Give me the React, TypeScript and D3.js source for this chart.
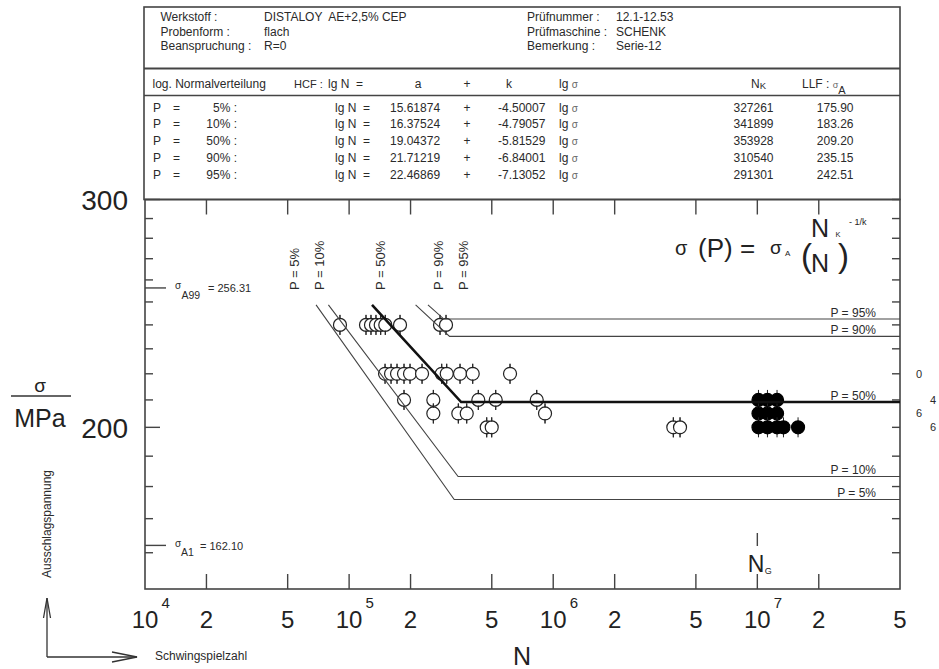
import React from 'react';
import * as d3 from 'd3';

// Wöhler-Linien je Überlebenswahrscheinlichkeit: lg N = a + k lg sigma
const probLabels = ['5%', '10%', '50%', '90%', '95%'];
const coefA = [15.61874, 16.37524, 19.04372, 21.71219, 22.46869];
const coefK = [-4.50007, -4.79057, -5.81529, -6.84001, -7.13052];
const kneeN = [327261, 341899, 353928, 310540, 291301];
const llfSigma = [175.9, 183.26, 209.2, 235.15, 242.51];
const labelN = [56800, 75400, 150000, 288500, 382400];
const curveStartSigma = 248.7;

// Brüche (offene Kreise)
const failSigma = [240, 220, 210, 205, 200];
const failN = [
  [90200, 121000, 128000, 135400, 142800, 150400, 177600, 278900, 298400],
  [150000, 160500, 171700, 185800, 198800, 227700, 284300, 300800, 349500, 403300, 614300],
  [185800, 258600, 429500, 522800, 830400],
  [258600, 342800, 376900, 911700],
  [472300, 499700, 3876000, 4181000],
];

// Durchläufer (gefüllte Kreise)
const runoutSigma = [210, 205, 200];
const runoutN = [
  [10130000, 11210000, 12490000],
  [10130000, 11210000, 12490000],
  [10130000, 11210000, 12490000, 13430000, 15830000],
];

const countSigma = [220, 210, 205, 200];
const countLabels = ['0', '4', '6', '6'];

const xTicks = [1e4, 2e4, 5e4, 1e5, 2e5, 5e5, 1e6, 2e6, 5e6, 1e7, 2e7, 5e7];
const yMajor = [200, 300];
const yMinor = [160, 170, 180, 190, 210, 220, 230, 240, 250, 260, 270, 280, 290];

const sigmaA99 = 256.31;
const sigmaA1 = 162.1;
const NG = 1e7;

const infoLeftKeys = ['Werkstoff :', 'Probenform :', 'Beanspruchung :'];
const infoLeftVals = ['DISTALOY  AE+2,5% CEP', 'flach', 'R=0'];
const infoRightKeys = ['Prüfnummer :', 'Prüfmaschine :', 'Bemerkung :'];
const infoRightVals = ['12.1-12.53', 'SCHENK', 'Serie-12'];

const FONT = 'Liberation Sans, Arial, Helvetica, sans-serif';
const INK = '#2a2a2a';

const left = 145, right = 900, top = 199.5, bottom = 589;

export default function App() {
  const x = d3.scaleLog().domain([1e4, 5e7]).range([left, right]);
  const y = d3.scaleLog().domain([150, 300]).range([bottom, top]);
  const line = d3.line<[number, number]>().x(d => x(d[0])).y(d => y(d[1]));

  const curves = probLabels.map((p, i) => {
    const nStart = Math.pow(10, coefA[i] + coefK[i] * Math.log10(curveStartSigma));
    return line([
      [nStart, curveStartSigma],
      [kneeN[i], llfSigma[i]],
      [5e7, llfSigma[i]],
    ]);
  });

  const isPow10 = (v: number) => Math.abs(Math.log10(v) - Math.round(Math.log10(v))) < 1e-9;
  const r = 6.5;

  const symbol = (n: number, s: number, filled: boolean, key: string) => {
    const cx = x(n), cy = y(s);
    return (
      <g key={key}>
        <line x1={cx} x2={cx} y1={cy - r - 3.5} y2={cy + r + 3.5} stroke="#222" strokeWidth={1} />
        <circle cx={cx} cy={cy} r={r} fill={filled ? '#000' : '#fff'} stroke={filled ? '#000' : '#222'} strokeWidth={1.2} />
        {!filled && <line x1={cx} x2={cx} y1={cy - r - 3.5} y2={cy - r + 1} stroke="#222" strokeWidth={1} />}
        {!filled && <line x1={cx} x2={cx} y1={cy + r - 1} y2={cy + r + 3.5} stroke="#222" strokeWidth={1} />}
      </g>
    );
  };

  const rowY = [111.7, 128.4, 145.1, 161.8, 178.5];

  return (
    <svg width={939} height={669} style={{ position: 'absolute', left: 0, top: 0, background: '#fff' }} fontFamily={FONT}>
      {/* Kopf */}
      <rect x={144} y={7} width={756} height={top - 7} fill="none" stroke="#444" strokeWidth={1.6} />
      <line x1={144} x2={900} y1={68.5} y2={68.5} stroke="#444" strokeWidth={2} />
      <line x1={144} x2={900} y1={95.5} y2={95.5} stroke="#444" strokeWidth={1.4} />
      <g fontSize={12} fill={INK}>
        {infoLeftKeys.map((t, i) => (
          <text key={'lk' + i} x={160.5} y={21 + i * 14.5}>{t}</text>
        ))}
        {infoLeftVals.map((t, i) => (
          <text key={'lv' + i} x={264} y={21 + i * 14.5} style={{ whiteSpace: 'pre' }}>{t}</text>
        ))}
        {infoRightKeys.map((t, i) => (
          <text key={'rk' + i} x={527} y={21 + i * 14.5}>{t}</text>
        ))}
        {infoRightVals.map((t, i) => (
          <text key={'rv' + i} x={616} y={21 + i * 14.5}>{t}</text>
        ))}

        <text x={152.5} y={87.5}>log. Normalverteilung</text>
        <text x={294} y={87.5} fontSize={11}>HCF :</text>
        <text x={328} y={87.5} style={{ whiteSpace: 'pre' }}>lg N  =</text>
        <text x={418} y={87.5} textAnchor="middle">a</text>
        <text x={467} y={87.5} textAnchor="middle">+</text>
        <text x={509} y={87.5} textAnchor="middle">k</text>
        <text x={559} y={87.5}>lg <tspan fontSize={10} fill="#666">σ</tspan></text>
        <text x={751} y={87.5}>N<tspan fontSize={9.5} dy={1}>K</tspan></text>
        <text x={802} y={87.5}>LLF : <tspan fontSize={9} fill="#666">σ</tspan><tspan fontSize={11} dy={6}>A</tspan></text>

        {probLabels.map((p, i) => (
          <g key={'row' + i}>
            <text x={153} y={rowY[i]}>P</text>
            <text x={173} y={rowY[i]}>=</text>
            <text x={237} y={rowY[i]} textAnchor="end">{p} :</text>
            <text x={335} y={rowY[i]} style={{ whiteSpace: 'pre' }}>lg N  =</text>
            <text x={390} y={rowY[i]}>{coefA[i].toFixed(5)}</text>
            <text x={467} y={rowY[i]} textAnchor="middle">+</text>
            <text x={498} y={rowY[i]}>{coefK[i].toFixed(5)}</text>
            <text x={559} y={rowY[i]}>lg <tspan fontSize={10} fill="#666">σ</tspan></text>
            <text x={773.5} y={rowY[i]} textAnchor="end">{kneeN[i]}</text>
            <text x={853.5} y={rowY[i]} textAnchor="end">{llfSigma[i].toFixed(2)}</text>
          </g>
        ))}
      </g>

      {/* Achsenrahmen */}
      <rect x={left} y={top} width={right - left} height={bottom - top} fill="none" stroke="#444" strokeWidth={1.6} />

      {/* x-Ticks oben/unten */}
      {xTicks.filter(t => t > 1e4 && t < 5e7).map(t => (
        <g key={'xt' + t} stroke="#444" strokeWidth={1.4}>
          <line x1={x(t)} x2={x(t)} y1={bottom} y2={bottom - 15} />
          <line x1={x(t)} x2={x(t)} y1={top} y2={top + 15} />
        </g>
      ))}
      {xTicks.map(t => {
        const e = Math.round(Math.log10(t));
        if (isPow10(t)) {
          return (
            <g key={'xl' + t} fill="#222">
              <text x={x(t)} y={628} fontSize={24} textAnchor="middle">10</text>
              <text x={x(t) + 16.5} y={608} fontSize={15}>{e}</text>
            </g>
          );
        }
        return (
          <text key={'xl' + t} x={x(t)} y={628} fontSize={24} textAnchor="middle" fill="#222">
            {String(Math.round(t / Math.pow(10, Math.floor(Math.log10(t)))))}
          </text>
        );
      })}

      {/* y-Ticks links/rechts */}
      {yMinor.map(s => (
        <g key={'ym' + s} stroke="#444" strokeWidth={1.4}>
          <line x1={left} x2={left + 8} y1={y(s)} y2={y(s)} />
          <line x1={right} x2={right - 8} y1={y(s)} y2={y(s)} />
        </g>
      ))}
      {yMajor.map(s => (
        <g key={'yM' + s}>
          <line x1={left} x2={left + 15} y1={y(s)} y2={y(s)} stroke="#444" strokeWidth={1.4} />
          <line x1={right} x2={right - 8} y1={y(s)} y2={y(s)} stroke="#444" strokeWidth={1.4} />
          <text x={128} y={y(s) + 10.5} fontSize={28} textAnchor="end" fill="#222">{s}</text>
        </g>
      ))}

      {/* sigma_A99 / sigma_A1 */}
      <line x1={left} x2={166} y1={y(sigmaA99)} y2={y(sigmaA99)} stroke="#444" strokeWidth={1.4} />
      <text x={175} y={y(sigmaA99) + 1.5} fontSize={10} fill={INK}>σ</text>
      <text x={181.5} y={y(sigmaA99) + 11.5} fontSize={10.5} fill={INK}>A99</text>
      <text x={208} y={y(sigmaA99) + 4} fontSize={11} fill={INK}>= {sigmaA99.toFixed(2)}</text>
      <line x1={left} x2={166} y1={y(sigmaA1)} y2={y(sigmaA1)} stroke="#444" strokeWidth={1.4} />
      <text x={175} y={y(sigmaA1) + 1.5} fontSize={10} fill={INK}>σ</text>
      <text x={181} y={y(sigmaA1) + 10.7} fontSize={10.5} fill={INK}>A1</text>
      <text x={200} y={y(sigmaA1) + 4.7} fontSize={11} fill={INK}>= {sigmaA1.toFixed(2)}</text>

      {/* Punkte */}
      {failSigma.map((s, i) => failN[i].map((n, j) => symbol(n, s, false, `f${i}-${j}`)))}
      {runoutSigma.map((s, i) => runoutN[i].map((n, j) => symbol(n, s, true, `r${i}-${j}`)))}

      {/* Wöhlerlinien */}
      {curves.map((d, i) => (
        <path key={'c' + i} d={d || ''} fill="none"
          stroke={probLabels[i] === '50%' ? '#111' : '#444'}
          strokeWidth={probLabels[i] === '50%' ? 2.6 : 1.1} />
      ))}
      {probLabels.map((p, i) => (
        <text key={'pr' + i} x={876} y={y(llfSigma[i]) - 2.5} fontSize={12} textAnchor="end" fill={INK}>P = {p}</text>
      ))}
      {probLabels.map((p, i) => (
        <text key={'pt' + i} transform={`translate(${x(labelN[i])},290) rotate(-90)`} fontSize={13} fill={INK}>P = {p}</text>
      ))}

      {/* Anzahl Durchläufer rechts */}
      {countSigma.map((s, i) => (
        <text key={'cnt' + i} x={i % 2 === 0 ? 919 : 933} y={y(s) + 4} fontSize={11} textAnchor="middle" fill={INK}>{countLabels[i]}</text>
      ))}

      {/* N_G */}
      <line x1={x(NG)} x2={x(NG)} y1={533} y2={546} stroke="#444" strokeWidth={1.4} />
      <text x={x(NG) - 9.5} y={571.5} fontSize={23} fill="#222">N</text>
      <text x={x(NG) + 7.5} y={573.5} fontSize={9} fill="#222">G</text>

      {/* Formel */}
      <g fill="#222">
        <text x={675} y={255} fontSize={20}>σ</text>
        <text x={698} y={256.5} fontSize={26}>(P) =</text>
        <text x={770} y={254} fontSize={19}>σ</text>
        <text x={785} y={255.5} fontSize={8}>A</text>
        <text x={801} y={267} fontSize={33}>(</text>
        <text x={811} y={236.7} fontSize={25}>N</text>
        <text x={835.5} y={236.7} fontSize={7.5}>K</text>
        <text x={811} y={271.5} fontSize={25}>N</text>
        <text x={838} y={267} fontSize={33}>)</text>
        <text x={849} y={225} fontSize={9}>- 1/k</text>
      </g>

      {/* Achsentitel */}
      <text x={40} y={392} fontSize={19} textAnchor="middle" fill="#222">σ</text>
      <line x1={11} x2={71} y1={396} y2={396} stroke="#333" strokeWidth={1.5} />
      <text x={40} y={427} fontSize={25} textAnchor="middle" fill="#222">MPa</text>
      <text transform="translate(51,524) rotate(-90)" fontSize={12} textAnchor="middle" fill={INK}>Ausschlagspannung</text>
      <text x={522} y={665} fontSize={25} textAnchor="middle" fill="#222">N</text>
      <text x={155} y={660} fontSize={12} fill={INK}>Schwingspielzahl</text>

      {/* Pfeile */}
      <g stroke="#333" strokeWidth={1.3} fill="none">
        <line x1={47} x2={47} y1={598} y2={657} />
        <polyline points="43.5,618 47,598 50.5,618" />
        <line x1={47} x2={137} y1={657} y2={657} />
        <polyline points="112,652 137,657 112,662" />
      </g>
    </svg>
  );
}
